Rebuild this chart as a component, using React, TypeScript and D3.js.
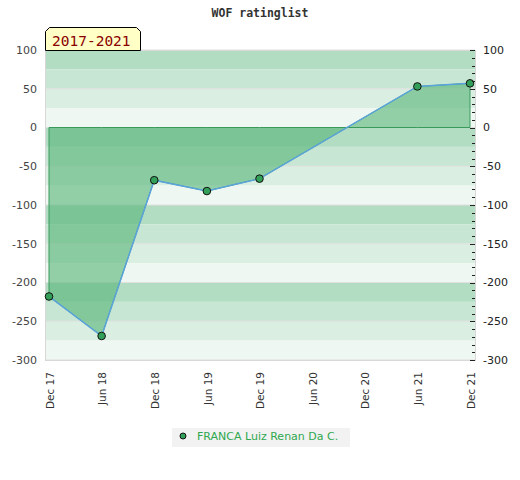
import React from "react";
import * as d3 from "d3";

// WOF rating history, half-yearly
const periods = ["Dec 17", "Jun 18", "Dec 18", "Jun 19", "Dec 19", "Jun 20", "Dec 20", "Jun 21", "Dec 21"];
const ratings: (number | null)[] = [-218, -269, -68, -82, -66, null, null, 53, 57];
const yTicks = [100, 50, 0, -50, -100, -150, -200, -250, -300];
const playerName = "FRANCA Luiz Renan Da C.";
const rangeLabel = "2017-2021";
const title = "WOF ratinglist";

const W = 520,
  H = 480;
const plot = { left: 45, right: 475, top: 50, bottom: 360 };
const stripeColors = ["#b3ddc3", "#c7e6d3", "#daeee2", "#eef7f1"];

export default function App() {
  const x = d3.scalePoint<string>().domain(periods).range([49, 470]);
  const y = d3.scaleLinear().domain([-300, 100]).range([plot.bottom, plot.top]);

  const pts = periods
    .map((p, i) => ({ p, v: ratings[i] }))
    .filter((d) => d.v !== null) as { p: string; v: number }[];

  const area = d3
    .area<{ p: string; v: number }>()
    .x((d) => x(d.p)!)
    .y0(y(0))
    .y1((d) => y(d.v));
  const line = d3
    .line<{ p: string; v: number }>()
    .x((d) => x(d.p)!)
    .y((d) => y(d.v));

  // background stripes, every 25, darkest at top of each 100 block
  const stripes = d3.range(100, -300, -25).map((v, i) => ({ top: v, bot: v - 25, color: stripeColors[i % 4] }));
  const minor = d3.range(-300, 101, 10);

  const font = "'DejaVu Sans', sans-serif";
  const mono = "'DejaVu Sans Mono', monospace";

  return (
    <svg width={W} height={H} style={{ position: "absolute", left: 0, top: 0, background: "#fff" }}>
      <text x={260} y={17} textAnchor="middle" fontFamily={mono} fontWeight="bold" fontSize={11.5} fill="#333">
        {title}
      </text>

      {stripes.map((s, i) => (
        <rect key={i} x={plot.left + 1} y={y(s.top)} width={plot.right - plot.left - 1} height={y(s.bot) - y(s.top)} fill={s.color} />
      ))}
      {yTicks.map((t) => (
        <line key={"g" + t} x1={plot.left} x2={plot.right} y1={y(t)} y2={y(t)} stroke="#e0e0e0" strokeWidth={1} />
      ))}
      <rect x={plot.left + 0.5} y={plot.top + 0.5} width={plot.right - plot.left} height={plot.bottom - plot.top} fill="none" stroke="#d8d8d8" />

      <path d={area(pts)!} fill="rgb(85,180,118)" fillOpacity={0.6} stroke="#3a9a5c" strokeWidth={1} />
      <path d={line(pts)!} fill="none" stroke="#5ba3dc" strokeWidth={1.5} />
      {pts.map((d) => (
        <circle key={d.p} cx={x(d.p)} cy={y(d.v)} r={3.8} fill="#33a05a" stroke="#111" strokeWidth={1} />
      ))}

      {minor.map((t) => (
        <line
          key={"m" + t}
          x1={t % 50 === 0 ? plot.right - 5 : plot.right - 3}
          x2={plot.right}
          y1={Math.round(y(t)) + 0.5}
          y2={Math.round(y(t)) + 0.5}
          stroke="#222"
          strokeWidth={1}
        />
      ))}

      {yTicks.map((t) => (
        <g key={"l" + t} fontFamily={font} fontSize={11} fill="#444">
          <text x={37} y={y(t)} dy="0.35em" textAnchor="end">
            {t}
          </text>
          <text x={483} y={y(t)} dy="0.35em" textAnchor="start" fill="#222">
            {t}
          </text>
        </g>
      ))}

      {periods.map((p) => (
        <text
          key={p}
          transform={`translate(${x(p)! + 1},${372}) rotate(-90)`}
          dy="0.35em"
          textAnchor="end"
          fontFamily={font}
          fontSize={10.5}
          fill="#333"
        >
          {p}
        </text>
      ))}

      <path d="M45.5,50.5 L45.5,31.5 L49.5,27.5 L136.5,27.5 L140.5,31.5 L140.5,50.5 Z" fill="#ffffc6" stroke="#000" strokeWidth={1} />
      <text x={52} y={46} fontFamily={mono} fontSize={14.5} fill="#8b0000">
        {rangeLabel}
      </text>

      <rect x={172} y={428} width={178} height={19} fill="#f2f2f2" />
      <circle cx={183} cy={436} r={3} fill="#33a05a" stroke="#111" strokeWidth={1} />
      <text x={197} y={440} fontFamily={font} fontSize={11} fill="#2ea84f">
        {playerName}
      </text>
    </svg>
  );
}
